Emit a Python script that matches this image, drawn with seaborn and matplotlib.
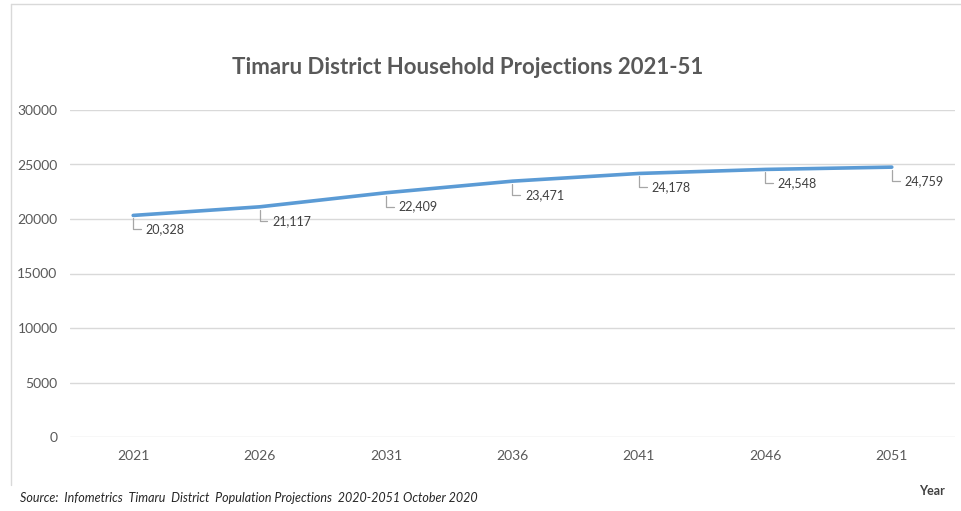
import matplotlib
matplotlib.use("Agg")
import matplotlib.pyplot as plt
from matplotlib.lines import Line2D
import pandas as pd
import seaborn as sns

years = ["2021", "2026", "2031", "2036", "2041", "2046", "2051"]
households = [20328, 21117, 22409, 23471, 24178, 24548, 24759]
y_ticks = [0, 5000, 10000, 15000, 20000, 25000, 30000]

title = "Timaru District Household Projections 2021-51"
source = "Source:  Infometrics  Timaru  District  Population Projections  2020-2051 October 2020"
x_title = "Year"


def main():
    df = pd.DataFrame({"year": years, "households": households})

    sns.set_theme(style="white")
    plt.rcParams["font.family"] = ["Lato", "DejaVu Sans"]

    fig = plt.figure(figsize=(9.62, 5.11), dpi=100)
    ax = fig.add_axes([70 / 962, 1 - 437 / 511, 885 / 962, 327 / 511])

    sns.lineplot(data=df, x="year", y="households", ax=ax, color="#5B9BD5",
                 linewidth=2.6, sort=False)

    ax.set_xlim(-0.5, len(years) - 0.5)
    ax.set_ylim(0, 30000)
    ax.set_yticks(y_ticks)
    ax.set_yticklabels([str(v) for v in y_ticks])
    ax.grid(axis="y", color="#D9D9D9", linewidth=1)
    ax.set_axisbelow(True)
    for s in ax.spines.values():
        s.set_visible(False)
    ax.tick_params(axis="both", length=0, labelsize=10, labelcolor="#595959")
    ax.tick_params(axis="y", pad=9)
    ax.tick_params(axis="x", pad=9)
    ax.set_xlabel("")
    ax.set_ylabel("")

    # data labels with leader lines
    for i, v in enumerate(households):
        ax.annotate(f"{v:,}", xy=(i, v), xytext=(9, -10), textcoords="offset points",
                    ha="left", va="center", fontsize=9, color="#404040",
                    arrowprops=dict(arrowstyle="-", color="#A6A6A6", lw=0.9,
                                    connectionstyle="angle,angleA=0,angleB=90,rad=0",
                                    relpos=(0, 0.5), shrinkA=1, shrinkB=2))

    fig.text(468 / 962, 1 - 68 / 511, title, ha="center", va="center",
             fontsize=16, fontweight="bold", color="#595959")
    fig.text(20 / 962, 1 - 498 / 511, source, ha="left", va="center",
             fontsize=9, style="italic", color="#262626")
    fig.text(932 / 962, 1 - 491 / 511, x_title, ha="center", va="center",
             fontsize=9, fontweight="bold", color="#404040")

    # chart frame (top and left edges visible)
    fig.add_artist(Line2D([11 / 962, 1], [1 - 4 / 511, 1 - 4 / 511],
                          transform=fig.transFigure, color="#D9D9D9", lw=1))
    fig.add_artist(Line2D([11 / 962, 11 / 962], [1 - 4 / 511, 1 - 485 / 511],
                          transform=fig.transFigure, color="#D9D9D9", lw=1))

    fig.savefig("out.png", dpi=100, facecolor="white")


if __name__ == "__main__":
    main()
